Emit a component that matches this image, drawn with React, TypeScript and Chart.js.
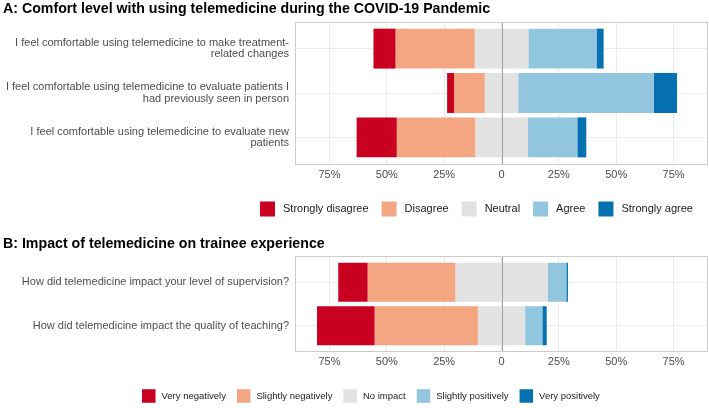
import React, { useEffect, useRef } from "react";
import { Chart, registerables } from "chart.js";

Chart.register(...registerables);

const FONT = '"Liberation Sans", Arial, Helvetica, sans-serif';

// ---------- Panel A data ----------
const titleA = "A: Comfort level with using telemedicine during the COVID-19 Pandemic";
const categoriesA: string[][] = [
  ["I feel comfortable using telemedicine to make treatment-", "related changes"],
  ["I feel comfortable using telemedicine to evaluate patients I", "had previously seen in person"],
  ["I feel comfortable using telemedicine to evaluate new", "patients"],
];
const levelsA = ["Strongly disagree", "Disagree", "Neutral", "Agree", "Strongly agree"];
const aStronglyDisagree = [9.6, 3.0, 17.5];
const aDisagree = [34.5, 13.4, 34.2];
const aNeutral = [23.4, 14.6, 22.9];
const aAgree = [29.7, 59.0, 21.6];
const aStronglyAgree = [3.1, 10.2, 3.9];

// ---------- Panel B data ----------
const titleB = "B: Impact of telemedicine on trainee experience";
const categoriesB: string[][] = [
  ["How did telemedicine impact your level of supervision?"],
  ["How did telemedicine impact the quality of teaching?"],
];
const levelsB = ["Very negatively", "Slightly negatively", "No impact", "Slightly positively", "Very positively"];
const bVeryNegatively = [12.8, 25.1];
const bSlightlyNegatively = [38.2, 45.0];
const bNoImpact = [40.3, 20.6];
const bSlightlyPositively = [8.1, 7.5];
const bVeryPositively = [0.7, 1.9];

// ---------- shared ----------
const levelColors = ["#ca0020", "#f4a582", "#e2e2e2", "#92c5de", "#0571b0"];
const xTickValues = [-75, -50, -25, 0, 25, 50, 75];
const xMin = -90;
const xMax = 90;

type PanelProps = {
  top: number;
  width: number;
  height: number;
  title: string;
  titleBaseline: number;
  categories: string[][];
  levels: string[];
  series: number[][]; // [strong neg, neg, neutral, pos, strong pos]
  panelLeft: number;
  panelTop: number;
  panelBottom: number;
  legendX: number;
  legendY: number;
  legendBox: number;
  legendFont: number;
  legendTextGap: number;
  legendSpacing: number;
};

function buildDatasets(series: number[][], levels: string[]) {
  const datasets = levels.map((label, k) => ({
    label,
    backgroundColor: levelColors[k],
    borderWidth: 0,
    grouped: false,
    barPercentage: 0.9,
    categoryPercentage: 1,
    data: [] as { x: [number, number]; y: number }[],
  }));
  const n = series[0].length;
  for (let i = 0; i < n; i++) {
    const half = series[2][i] / 2;
    datasets[2].data.push({ x: [-half, half], y: i });
    let left = -half;
    datasets[1].data.push({ x: [left - series[1][i], left], y: i });
    left -= series[1][i];
    datasets[0].data.push({ x: [left - series[0][i], left], y: i });
    let right = half;
    datasets[3].data.push({ x: [right, right + series[3][i]], y: i });
    right += series[3][i];
    datasets[4].data.push({ x: [right, right + series[4][i]], y: i });
  }
  return datasets;
}

function LikertPanel(p: PanelProps) {
  const ref = useRef<HTMLCanvasElement>(null);
  useEffect(() => {
    const canvas = ref.current;
    if (!canvas) return;
    const decor = {
      id: "likertDecor",
      afterDatasetsDraw(chart: any) {
        const { ctx, chartArea } = chart;
        const xs = chart.scales.x;
        const x0 = Math.round(xs.getPixelForValue(0)) + 0.5;
        ctx.save();
        ctx.strokeStyle = "#a3a3a3";
        ctx.lineWidth = 1;
        ctx.beginPath();
        ctx.moveTo(x0, chartArea.top);
        ctx.lineTo(x0, chartArea.bottom);
        ctx.stroke();
        ctx.strokeStyle = "#cccccc";
        ctx.strokeRect(
          Math.round(chartArea.left) + 0.5,
          Math.round(chartArea.top) + 0.5,
          Math.round(chartArea.right - chartArea.left) - 1,
          Math.round(chartArea.bottom - chartArea.top)
        );
        ctx.restore();
      },
      afterDraw(chart: any) {
        const { ctx } = chart;
        ctx.save();
        // title
        ctx.font = `bold 14.2px ${FONT}`;
        ctx.fillStyle = "#000000";
        ctx.textAlign = "left";
        ctx.textBaseline = "alphabetic";
        ctx.fillText(p.title, 3, p.titleBaseline);
        // legend
        ctx.font = `${p.legendFont}px ${FONT}`;
        ctx.textBaseline = "middle";
        let x = p.legendX;
        p.levels.forEach((lab, k) => {
          ctx.fillStyle = levelColors[k];
          ctx.fillRect(x, p.legendY - p.legendBox / 2, p.legendBox, p.legendBox);
          x += p.legendBox + p.legendTextGap;
          ctx.fillStyle = "#1a1a1a";
          ctx.fillText(lab, x, p.legendY);
          x += ctx.measureText(lab).width + p.legendSpacing;
        });
        ctx.restore();
      },
    };

    const chart = new Chart(canvas, {
      type: "bar",
      data: { datasets: buildDatasets(p.series, p.levels) as any },
      options: {
        indexAxis: "y",
        responsive: false,
        animation: false,
        events: [],
        layout: { padding: { top: p.panelTop, right: 1, left: 0, bottom: 0 } },
        plugins: { legend: { display: false }, tooltip: { enabled: false }, title: { display: false } },
        scales: {
          x: {
            type: "linear",
            position: "bottom",
            min: xMin,
            max: xMax,
            bounds: "data",
            offset: false,
            afterBuildTicks: (s: any) => {
              s.ticks = xTickValues.map((v) => ({ value: v }));
            },
            afterFit: (s: any) => {
              s.height = p.height - p.panelBottom;
            },
            ticks: {
              autoSkip: false,
              maxRotation: 0,
              padding: 4,
              color: "#4d4d4d",
              font: { family: FONT, size: 11 },
              callback: (v: any) => (Number(v) === 0 ? "0" : Math.abs(Number(v)) + "%"),
            },
            grid: { color: "#ebebeb", drawTicks: false, lineWidth: 1, offset: false },
            border: { display: false },
          },
          y: {
            type: "linear",
            reverse: true,
            min: -0.6,
            max: p.categories.length - 1 + 0.6,
            bounds: "data",
            offset: false,
            afterBuildTicks: (s: any) => {
              s.ticks = p.categories.map((_, i) => ({ value: i }));
            },
            afterFit: (s: any) => {
              s.width = p.panelLeft;
            },
            ticks: {
              autoSkip: false,
              padding: 6,
              color: "#4d4d4d",
              font: { family: FONT, size: 11, lineHeight: 1.05 },
              callback: (v: any) => p.categories[Number(v)] ?? "",
            },
            grid: { color: "#ebebeb", drawTicks: false, lineWidth: 1, offset: false },
            border: { display: false },
          },
        },
      } as any,
      plugins: [decor],
    });
    return () => chart.destroy();
  }, []);
  return (
    <canvas
      ref={ref}
      width={p.width}
      height={p.height}
      style={{ position: "absolute", left: 0, top: p.top, width: p.width, height: p.height, display: "block" }}
    />
  );
}

export default function App() {
  return (
    <div style={{ position: "absolute", left: 0, top: 0, width: 709, height: 408, background: "#ffffff" }}>
      <LikertPanel
        top={0}
        width={709}
        height={232}
        title={titleA}
        titleBaseline={13.3}
        categories={categoriesA}
        levels={levelsA}
        series={[aStronglyDisagree, aDisagree, aNeutral, aAgree, aStronglyAgree]}
        panelLeft={295}
        panelTop={22}
        panelBottom={164}
        legendX={260}
        legendY={209}
        legendBox={15}
        legendFont={11}
        legendTextGap={8}
        legendSpacing={13}
      />
      <LikertPanel
        top={232}
        width={709}
        height={176}
        title={titleB}
        titleBaseline={15.5}
        categories={categoriesB}
        levels={levelsB}
        series={[bVeryNegatively, bSlightlyNegatively, bNoImpact, bSlightlyPositively, bVeryPositively]}
        panelLeft={295}
        panelTop={24.3}
        panelBottom={119.7}
        legendX={142}
        legendY={164}
        legendBox={13.5}
        legendFont={9.5}
        legendTextGap={6}
        legendSpacing={11}
      />
    </div>
  );
}
